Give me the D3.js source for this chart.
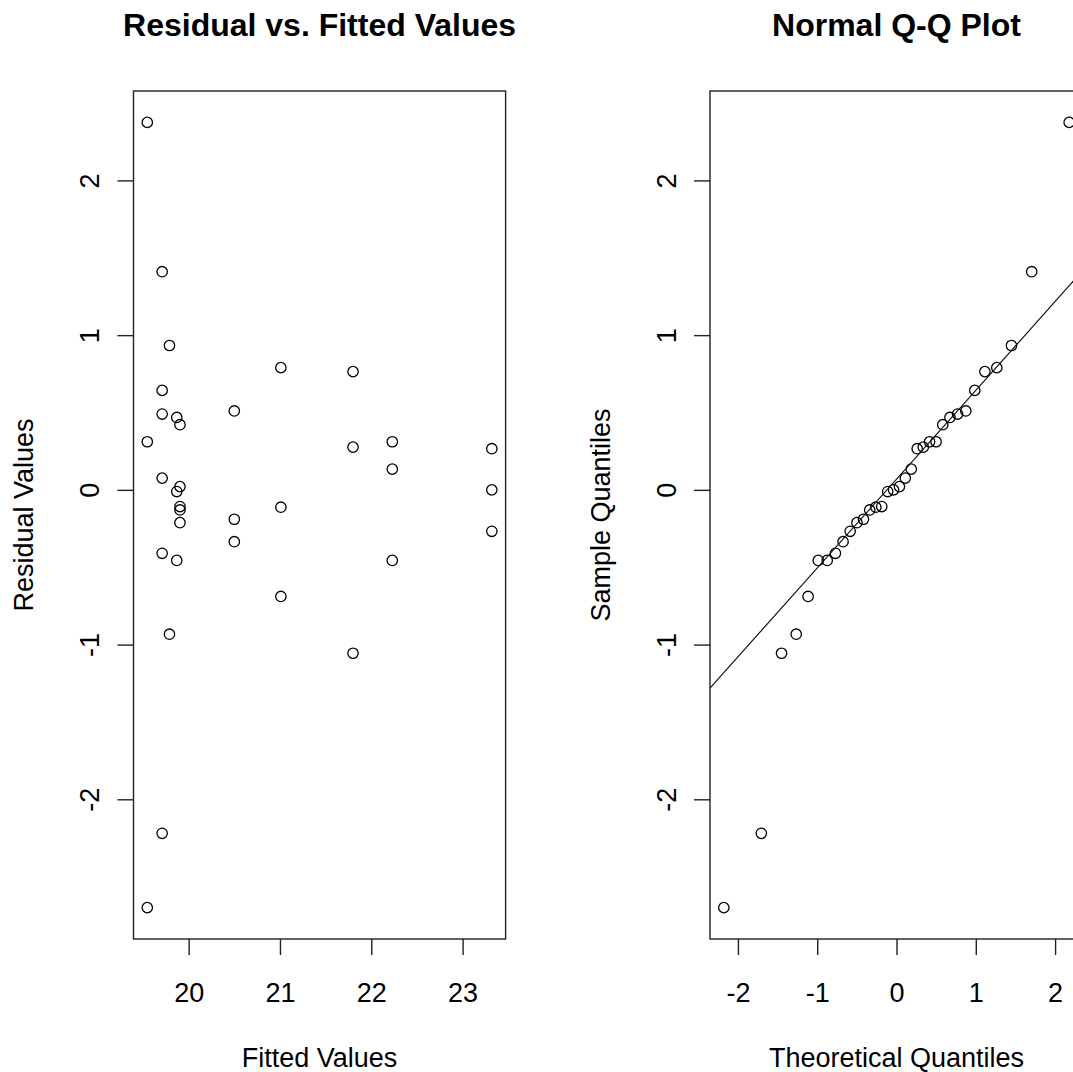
<html>

<head>
  <meta charset="UTF-8">
  <script src="https://d3js.org/d3.v7.min.js"></script>
</head>
<style>
  body {
    margin: 0;
    background: white;
  }

  text {
    font-family: "Liberation Sans", Arial, sans-serif;
    fill: black;
  }
</style>

<body>
  <svg id="chart" width="1073" height="1072"></svg>

  <script>
    // residual diagnostics
    const fitted = [19.547, 19.71, 19.79, 21.01, 21.80, 19.71, 19.71, 19.87, 19.905, 20.50,
      19.547, 21.80, 22.23, 23.32, 22.23, 19.71, 19.905, 19.87, 23.32, 19.905,
      19.905, 21.01, 19.905, 20.50, 20.50, 23.32, 19.71, 19.87, 22.23, 21.01,
      19.79, 21.80, 19.71, 19.547];
    const residuals = [2.375, 1.41, 0.933, 0.79, 0.764, 0.643, 0.49, 0.468, 0.421, 0.51,
      0.311, 0.276, 0.311, 0.266, 0.134, 0.076, 0.021, -0.011, 0, -0.108,
      -0.13, -0.112, -0.212, -0.19, -0.335, -0.268, -0.41, -0.456, -0.456, -0.689,
      -0.933, -1.056, -2.22, -2.70];

    // theoretical normal quantiles for 34 points
    const theoretical = [-2.178, -1.705, -1.450, -1.265, -1.115, -0.987, -0.874, -0.770, -0.674, -0.584,
      -0.499, -0.417, -0.338, -0.261, -0.186, -0.111, -0.037, 0.037, 0.111, 0.186,
      0.261, 0.338, 0.417, 0.499, 0.584, 0.674, 0.770, 0.874, 0.987, 1.115,
      1.265, 1.450, 1.705, 2.178];

    // tick labels
    const fittedTicks = [20, 21, 22, 23];
    const residualTicks = [-2, -1, 0, 1, 2];
    const theoreticalTicks = [-2, -1, 0, 1, 2];

    const svg = d3.select("svg#chart");

    // plot regions (R style, right panel runs off the picture)
    const plotTop = 91, plotBottom = 939;
    const panels = [
      { left: 133.5, right: 505.6 },
      { left: 710, right: 1083 }
    ];

    // R pads each axis range by 4%
    const padded = function (values) {
      let ext = d3.extent(values);
      let pad = (ext[1] - ext[0]) * 0.04;
      return [ext[0] - pad, ext[1] + pad];
    };

    const sample = residuals.slice().sort(d3.ascending);

    const yScale = d3.scaleLinear().domain(padded(residuals)).range([plotBottom, plotTop]);
    const x1 = d3.scaleLinear().domain(padded(fitted)).range([panels[0].left, panels[0].right]);
    const x2 = d3.scaleLinear().domain(padded(theoretical)).range([panels[1].left, panels[1].right]);

    const fontSize = 27;

    const drawPanel = function (p, xScale, xTicks, yTicks, title, xLabel, yLabel, pts) {
      let g = svg.append("g");

      // clip to the plot region
      let clipId = "clip" + Math.round(p.left);
      g.append("clipPath").attr("id", clipId)
        .append("rect")
        .attr("x", p.left).attr("y", plotTop)
        .attr("width", p.right - p.left).attr("height", plotBottom - plotTop);

      // bottom axis
      let bottomAxis = d3.axisBottom(xScale).tickValues(xTicks).tickSize(16).tickFormat(d => String(d));
      let bg = g.append("g").attr("transform", `translate(0,${plotBottom})`).call(bottomAxis);
      bg.select(".domain").remove();
      bg.selectAll("line").attr("stroke", "#222").attr("stroke-width", 1.4);
      bg.selectAll("text")
        .attr("y", 63).attr("dy", 0)
        .attr("font-size", fontSize)
        .attr("fill", "black")
        .attr("font-family", "Liberation Sans, Arial, sans-serif");

      // left axis with rotated labels
      let leftAxis = d3.axisLeft(yScale).tickValues(yTicks).tickSize(16).tickFormat(d => String(d));
      let lg = g.append("g").attr("transform", `translate(${p.left},0)`).call(leftAxis);
      lg.select(".domain").remove();
      lg.selectAll("line").attr("stroke", "#222").attr("stroke-width", 1.4);
      lg.selectAll("text")
        .attr("x", 0).attr("dy", 0)
        .attr("transform", "translate(-34.5,0) rotate(-90)")
        .attr("text-anchor", "middle")
        .attr("font-size", fontSize)
        .attr("fill", "black")
        .attr("font-family", "Liberation Sans, Arial, sans-serif");

      // box around the plot
      g.append("rect")
        .attr("x", p.left).attr("y", plotTop)
        .attr("width", p.right - p.left).attr("height", plotBottom - plotTop)
        .attr("fill", "none").attr("stroke", "#222").attr("stroke-width", 1.4);

      // points
      g.append("g").attr("clip-path", `url(#${clipId})`)
        .selectAll("circle").data(pts)
        .join("circle")
        .attr("cx", d => xScale(d[0]))
        .attr("cy", d => yScale(d[1]))
        .attr("r", 5.2)
        .attr("fill", "none")
        .attr("stroke", "black")
        .attr("stroke-width", 1.3);

      // title and axis labels
      let mid = (p.left + p.right) / 2;
      g.append("text")
        .attr("x", mid).attr("y", 36)
        .attr("text-anchor", "middle")
        .attr("font-size", 32).attr("font-weight", "bold")
        .text(title);

      g.append("text")
        .attr("x", mid).attr("y", 1067)
        .attr("text-anchor", "middle")
        .attr("font-size", fontSize)
        .text(xLabel);

      g.append("text")
        .attr("transform", `translate(${p.left - 100.5},${(plotTop + plotBottom) / 2}) rotate(-90)`)
        .attr("text-anchor", "middle")
        .attr("font-size", fontSize)
        .text(yLabel);

      return { g: g, clipId: clipId };
    };

    // panel 1: residuals vs fitted
    drawPanel(panels[0], x1, fittedTicks, residualTicks,
      "Residual vs. Fitted Values", "Fitted Values", "Residual Values",
      fitted.map((f, i) => [f, residuals[i]]));

    // panel 2: normal Q-Q
    let qq = drawPanel(panels[1], x2, theoreticalTicks, residualTicks,
      "Normal Q-Q Plot", "Theoretical Quantiles", "Sample Quantiles",
      theoretical.map((t, i) => [t, sample[i]]));

    // qqline through the quartiles
    let q1 = d3.quantile(sample, 0.25), q3 = d3.quantile(sample, 0.75);
    let slope = (q3 - q1) / (0.6745 * 2);
    let intercept = (q1 + q3) / 2;
    let xd = x2.domain();
    qq.g.append("line")
      .attr("clip-path", `url(#${qq.clipId})`)
      .attr("x1", x2(xd[0])).attr("y1", yScale(intercept + slope * xd[0]))
      .attr("x2", x2(xd[1])).attr("y2", yScale(intercept + slope * xd[1]))
      .attr("stroke", "#111")
      .attr("stroke-width", 1.1);
  </script>

</body>

</html>
